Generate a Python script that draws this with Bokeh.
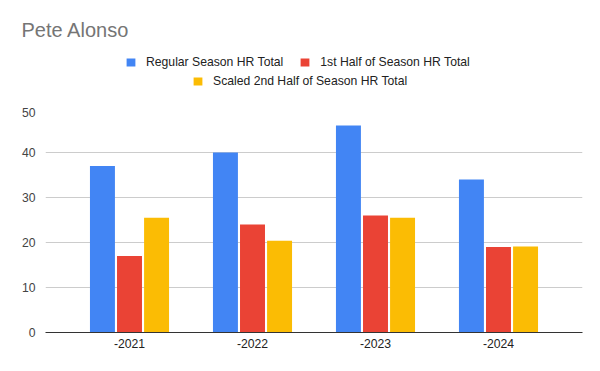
from bokeh.plotting import figure
from bokeh.layouts import column
from bokeh.models import (ColumnDataSource, FactorRange, Legend, LegendItem,
                          SingleIntervalTicker, Range1d)
from bokeh.transform import dodge
from bokeh.embed import file_html
from bokeh.resources import INLINE

seasons = ["-2021", "-2022", "-2023", "-2024"]
regular_hr = [37, 40, 46, 34]
first_half_hr = [17, 24, 26, 19]
scaled_second_half_hr = [25.5, 20.4, 25.5, 19.1]
series_names = ["Regular Season HR Total", "1st Half of Season HR Total", "Scaled 2nd Half of Season HR Total"]
colors = ["#4285F4", "#EA4335", "#FBBC04"]
chart_title = "Pete Alonso"

FONT = "Liberation Sans"
LEFT, RIGHT = 45, 18

# ---- header (title + legend); its frame is aligned with the chart frame ----
hdr = figure(width=600, height=107, output_backend="svg", toolbar_location=None,
             x_range=Range1d(LEFT, 600 - RIGHT), y_range=Range1d(107, 0),
             x_axis_location=None, y_axis_location=None,
             min_border_left=LEFT, min_border_right=RIGHT, min_border_top=50, min_border_bottom=0)
hdr.outline_line_color = None
hdr.xgrid.visible = False
hdr.ygrid.visible = False
hdr.background_fill_color = "white"
hdr.border_fill_color = "white"

hdr.title.text = chart_title
hdr.title.align = "left"
hdr.title.offset = 21 - LEFT
hdr.title.standoff = 20
hdr.title.text_font = FONT
hdr.title.text_font_size = "20px"
hdr.title.text_font_style = "normal"
hdr.title.text_color = "#757575"

# legend proxies (zero-size, never visible)
d1 = hdr.vbar(x=[0], top=[0], bottom=[0], width=0, color=colors[0], line_color=None)
d2 = hdr.vbar(x=[0], top=[0], bottom=[0], width=0, color=colors[1], line_color=None)
d3 = hdr.vbar(x=[0], top=[0], bottom=[0], width=0, color=colors[2], line_color=None)

def mk_legend(items, loc):
    return Legend(items=items, orientation="horizontal", location=loc,
                  padding=0, margin=0, spacing=16, label_standoff=10,
                  glyph_width=11, glyph_height=10, label_height=14,
                  border_line_alpha=0, background_fill_alpha=0,
                  label_text_font=FONT, label_text_font_size="12.2px", label_text_color="#222222")

hdr.add_layout(mk_legend([LegendItem(label=series_names[0], renderers=[d1]),
                          LegendItem(label=series_names[1], renderers=[d2])], (125 - LEFT, 38.5)))
hdr.add_layout(mk_legend([LegendItem(label=series_names[2], renderers=[d3])], (192 - LEFT, 19.5)))

# ---- main chart ----
src = ColumnDataSource(dict(x=seasons, a=regular_hr, b=first_half_hr, c=scaled_second_half_hr))

p = figure(width=600, height=264, output_backend="svg", toolbar_location=None,
           x_range=FactorRange(factors=seasons, range_padding=0.0915), y_range=(0, 50),
           min_border_left=LEFT, min_border_right=RIGHT, min_border_top=0, min_border_bottom=39)
p.outline_line_color = None
p.background_fill_color = "white"
p.border_fill_color = "white"

w = 0.203
off = 0.22
r1 = p.vbar(x=dodge("x", -off, range=p.x_range), top="a", width=w, source=src, color=colors[0], line_color=None)
r2 = p.vbar(x=dodge("x", 0.0, range=p.x_range), top="b", width=w, source=src, color=colors[1], line_color=None)
r3 = p.vbar(x=dodge("x", off, range=p.x_range), top="c", width=w, source=src, color=colors[2], line_color=None)

p.xgrid.grid_line_color = None
p.ygrid.grid_line_color = "#cccccc"
p.ygrid.grid_line_width = 1
p.yaxis.ticker = SingleIntervalTicker(interval=10)
p.yaxis.axis_line_color = None
p.yaxis.major_tick_line_color = None
p.yaxis.minor_tick_line_color = None
p.yaxis.major_tick_out = 0
p.yaxis.major_tick_in = 0
p.yaxis.major_label_standoff = 6
p.yaxis.major_label_text_font = FONT
p.yaxis.major_label_text_font_size = "12.2px"
p.yaxis.major_label_text_color = "#444444"

p.xaxis.axis_line_color = "#333333"
p.xaxis.major_tick_line_color = None
p.xaxis.minor_tick_line_color = None
p.xaxis.major_tick_out = 0
p.xaxis.major_tick_in = 0
p.xaxis.major_label_standoff = 6
p.xaxis.major_label_text_font = FONT
p.xaxis.major_label_text_font_size = "12.2px"
p.xaxis.major_label_text_color = "#222222"

open("out.html", "w").write(file_html(column(hdr, p, spacing=0), INLINE))
